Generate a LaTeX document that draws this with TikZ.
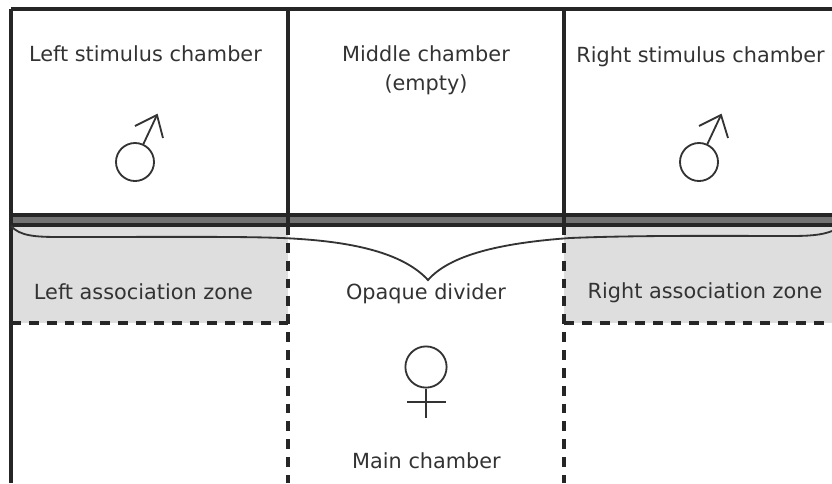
\documentclass[tikz,border=0pt]{standalone}
\usepackage{fontspec}
\setmainfont{DejaVu Sans}
\definecolor{zonegray}{gray}{0.87}
\definecolor{wallgray}{gray}{0.45}
\definecolor{inkgray}{gray}{0.2}
\tikzset{
    label text/.style={text=inkgray, font=\fontsize{14.8}{19.2}\selectfont, anchor=base, inner sep=0pt},
    wall/.style={draw=black!85, line width=2.3pt},
    zone edge/.style={draw=black!85, line width=2.3pt, dash pattern=on 7pt off 5.7pt},
    symbol/.style={draw=black!80, line width=1.3pt},
    ring/.style={circle, symbol, inner sep=0pt, minimum size=1.0cm}
}

\begin{document}
\begin{tikzpicture}[x=0.025cm, y=-0.025cm]
        \useasboundingbox (0,0) rectangle (832,483);
        \clip (0,0) rectangle (832,483);
        \coordinate (topl) at (11,9);
        \coordinate (topm) at (288,9);
        \coordinate (topn) at (564,9);
        \coordinate (topr) at (832,9);
        \coordinate (divl) at (11,215);
        \coordinate (divm) at (288,215);
        \coordinate (divn) at (564,215);
        \coordinate (divr) at (832,225);
        \coordinate (botl) at (11,483);
        \coordinate (botm) at (288,483);
        \coordinate (botn) at (564,483);
        \coordinate (lowm) at (288,225);
        \coordinate (lown) at (564,225);
        \coordinate (zonel) at (11,323);
        \coordinate (zonem) at (288,323);
        \coordinate (zonen) at (564,323);
        \coordinate (zoner) at (832,323);
        % association zones
        \fill[zonegray] (11,225) rectangle (zonem);
        \fill[zonegray] (lown) rectangle (zoner);
        % opaque divider
        \fill[wallgray] (divl) rectangle (divr);
        \draw[wall] (topl) -- (topr);
        \draw[wall] (divl) -- (832,215);
        \draw[wall] (11,225) -- (divr);
        \draw[wall] (topl) -- (botl);
        \draw[wall] (topm) -- (lowm);
        \draw[wall] (topn) -- (lown);
        \draw[zone edge] (lowm) -- (botm);
        \draw[zone edge] (lown) -- (botn);
        \draw[zone edge] (zonel) -- (zonem);
        \draw[zone edge] (zonen) -- (zoner);
        % brace under the divider
        \coordinate (bracel) at (11,226);
        \coordinate (bracetip) at (428,280);
        \coordinate (bracer) at (832,231);
        \draw[symbol] (bracel) .. controls (20,236) and (35,237) .. (60,237)
            .. controls (180,237) and (260,236) .. (300,239)
            .. controls (360,243) and (405,255) .. (bracetip)
            .. controls (450,255) and (500,243) .. (570,238)
            .. controls (640,235) and (740,236) .. (790,236)
            .. controls (810,236) and (822,235) .. (bracer);
        % labels
        \node[label text] (lstim) at (145.5,61) {Left stimulus chamber};
        \node[label text] (mid) at (426,61) {Middle chamber};
        \node[label text] (empty) at (426,90) {(empty)};
        \node[label text] (rstim) at (700.5,62) {Right stimulus chamber};
        \node[label text] (lzone) at (143.5,299) {Left association zone};
        \node[label text] (opaque) at (426,299) {Opaque divider};
        \node[label text] (rzone) at (705,298) {Right association zone};
        \node[label text] (main) at (426.5,468) {Main chamber};
        % left male
        \node[ring, minimum size=0.95cm] (lring) at (135,162) {};
        \coordinate (lhead) at (157,115);
        \draw[symbol] (lring.65) -- (lhead);
        \draw[symbol] (135,126) -- (lhead) -- (163,138);
        % right male
        \node[ring, minimum size=0.95cm] (rring) at (699,162) {};
        \coordinate (rhead) at (721,115);
        \draw[symbol] (rring.65) -- (rhead);
        \draw[symbol] (699,126) -- (rhead) -- (728,138);
        % female
        \node[ring, minimum size=1.03cm] (fring) at (426,367) {};
        \coordinate (fstem) at (426,418);
        \draw[symbol] (fring) -- (fstem);
        \draw[symbol] (407,402) -- (446,402);
\end{tikzpicture}
\end{document}
